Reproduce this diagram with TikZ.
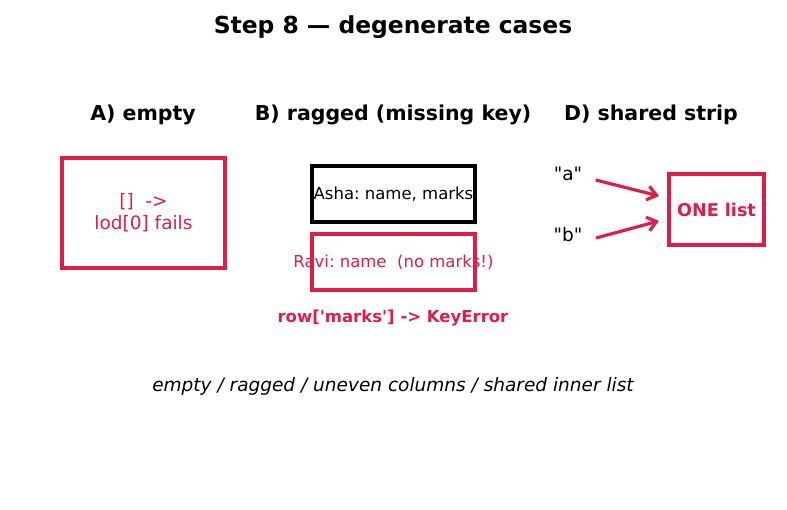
\documentclass[tikz,border=0pt]{standalone}
\usepackage{fontspec}
\setmainfont{DejaVu Sans}
\usetikzlibrary{arrows.meta, calc}
\definecolor{errred}{RGB}{220,30,72}
\tikzset{box/.style={draw, line width=4pt, minimum width=#1, inner sep=0pt}}
\tikzset{head/.style={font=\fontsize{20.5}{24}\selectfont\bfseries}}
\tikzset{txt/.style={font=\fontsize{16.5}{20}\selectfont}}
\tikzset{arr/.style={errred, line width=3.2pt, -{Straight Barb[length=9pt, width=14pt]}}}
\frenchspacing
\begin{document}
\begin{tikzpicture}[x=1pt, y=-1pt]
\useasboundingbox (0,0) rectangle (787,510);
\node[font=\fontsize{23.4}{28}\selectfont\bfseries] (title) at (393,27) {Step 8 — degenerate cases};
\node[head] (ha) at (143,115) {A) empty};
\node[head] (hb) at (393,115) {B) ragged (missing key)};
\node[head] (hd) at (651,115) {D) shared strip};
% A) empty
\node[box=163pt, minimum height=110pt, errred, font=\fontsize{18.5}{22}\selectfont, align=center] (empty) at (143.5,213) {[]~~->\\lod[0] fails};
% B) ragged
\node[box=163pt, minimum height=56pt, txt] (asha) at (393.5,194) {Asha: name, marks};
\node[box=163pt, minimum height=56pt, errred] (ravi) at (393.5,262) {};
\node[txt, text=errred] (ravitxt) at (ravi) {Ravi: name~~(no marks!)};
\node[font=\fontsize{16.5}{20}\selectfont\bfseries, text=errred] (keyerr) at (393,318) {row[\textquotesingle marks\textquotesingle] -> KeyError};
% D) shared strip
\node[font=\fontsize{18.5}{22}\selectfont] (qa) at (568,174) {\textquotedbl a\textquotedbl};
\node[font=\fontsize{18.5}{22}\selectfont] (qb) at (568,235) {\textquotedbl b\textquotedbl};
\node[box=95pt, minimum height=71pt, errred, font=\fontsize{17.6}{21}\selectfont\bfseries] (onelist) at (716.5,209.5) {ONE list};
\coordinate (sa) at ($(qa.east)+(10,6)$);
\coordinate (sb) at ($(qb.east)+(10,3)$);
\coordinate (ta) at ($(onelist.west)+(-8,-13.5)$);
\coordinate (tb) at ($(onelist.west)+(-8,11.5)$);
\draw[arr] (sa) -- (ta);
\draw[arr] (sb) -- (tb);
\node[font=\fontsize{18.5}{22}\selectfont\itshape] (note) at (393,386) {empty / ragged / uneven columns / shared inner list};
\end{tikzpicture}
\end{document}
